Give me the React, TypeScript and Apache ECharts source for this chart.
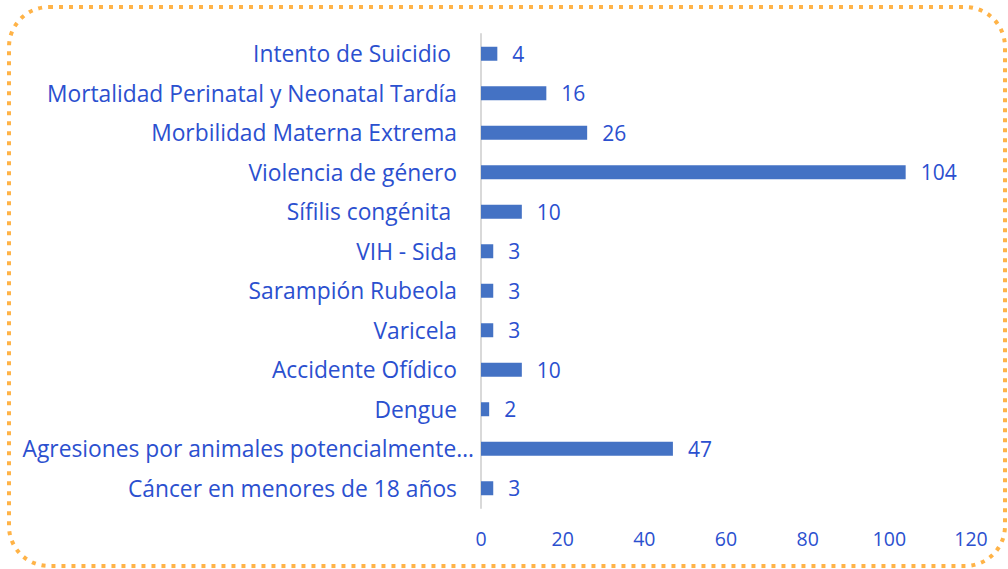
import React, { useEffect, useRef } from "react";
import * as echarts from "echarts";

const categories = [
  "Intento de Suicidio ",
  "Mortalidad Perinatal y Neonatal Tardía",
  "Morbilidad Materna Extrema",
  "Violencia de género",
  "Sífilis congénita ",
  "VIH - Sida",
  "Sarampión Rubeola",
  "Varicela",
  "Accidente Ofídico",
  "Dengue",
  "Agresiones por animales potencialmente…",
  "Cáncer en menores de 18 años",
];
const values = [4, 16, 26, 104, 10, 3, 3, 3, 10, 2, 47, 3];
const xTicks = [0, 20, 40, 60, 80, 100, 120];

const TEXT = "#2B50CF";
const FONT = "Open Sans";

export default function App() {
  const ref = useRef<HTMLDivElement>(null);
  useEffect(() => {
    if (!ref.current) return;
    const chart = echarts.init(ref.current, null, { renderer: "svg" });
    chart.setOption({
      animation: false,
      backgroundColor: "#ffffff",
      grid: { left: 481, right: 37, top: 34, bottom: 61, containLabel: false },
      xAxis: {
        type: "value",
        min: xTicks[0],
        max: xTicks[xTicks.length - 1],
        interval: 20,
        axisLine: { show: false },
        axisTick: { show: false },
        splitLine: { show: false },
        axisLabel: { color: TEXT, fontFamily: FONT, fontSize: 19.5, margin: 20 },
      },
      yAxis: {
        type: "category",
        data: categories.map((c) =>
          c.endsWith("…")
            ? { value: c, textStyle: { padding: [0, -17, 0, 0] } }
            : c
        ),
        inverse: true,
        axisLine: { show: true, lineStyle: { color: "#D9D9D9", width: 2 } },
        axisTick: { show: false },
        axisLabel: { color: TEXT, fontFamily: FONT, fontSize: 22.8, margin: 24 },
      },
      series: [
        {
          type: "bar",
          data: values,
          barWidth: 14,
          itemStyle: { color: "#4472C4" },
          label: {
            show: true,
            position: "right",
            distance: 15,
            color: TEXT,
            fontFamily: FONT,
            fontSize: 21,
          },
        },
      ],
      graphic: [
        {
          type: "rect",
          shape: { x: 9, y: 7, width: 996, height: 559, r: 40 },
          style: {
            fill: "none",
            stroke: "#FFB347",
            lineWidth: 4,
            lineDash: [4, 6],
          },
          silent: true,
        },
      ],
    });
    return () => chart.dispose();
  }, []);
  return (
    <div style={{ position: "fixed", left: 0, top: 0 }}>
      <div ref={ref} style={{ width: 1008, height: 569 }} />
    </div>
  );
}
